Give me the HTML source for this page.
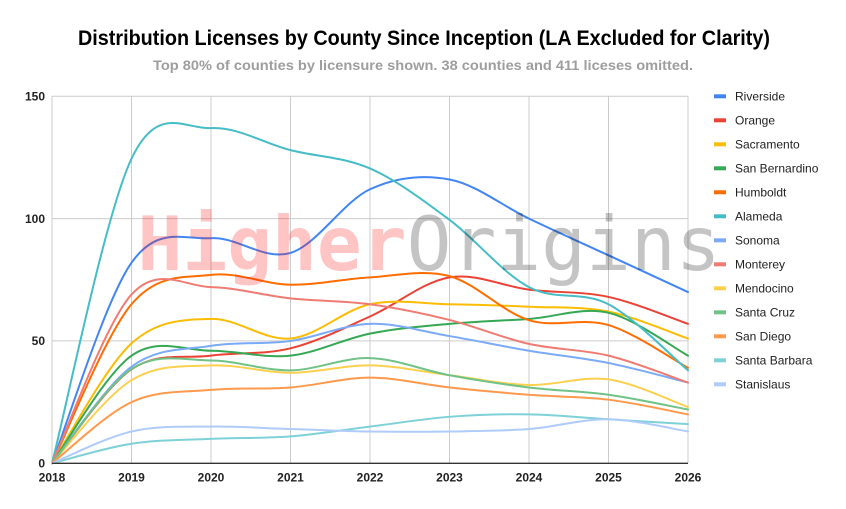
<!DOCTYPE html>
<html>
<head>
<meta charset="utf-8">
<style>
  html, body { margin:0; padding:0; background:#fff; }
  body { width:846px; height:509px; overflow:hidden; }
  svg { display:block; }
  .ax { font-family:"Liberation Sans", Arial, sans-serif; font-weight:bold; font-size:12px; fill:#222; }
  .lg { font-family:"Liberation Sans", Arial, sans-serif; font-size:12px; fill:#222; }
</style>
</head>
<body>
<svg id="chart" width="846" height="509" viewBox="0 0 846 509" xmlns="http://www.w3.org/2000/svg">
  <rect x="0" y="0" width="846" height="509" fill="#ffffff"/>
  <!-- title -->
  <text x="424" y="45" text-anchor="middle" font-family="Liberation Sans, Arial, sans-serif" font-weight="bold" font-size="21" fill="#000" textLength="692" lengthAdjust="spacingAndGlyphs">Distribution Licenses by County Since Inception (LA Excluded for Clarity)</text>
  <text x="423" y="70" text-anchor="middle" font-family="Liberation Sans, Arial, sans-serif" font-weight="bold" font-size="14" fill="#9e9e9e" textLength="540" lengthAdjust="spacingAndGlyphs">Top 80% of counties by licensure shown. 38 counties and 411 liceses omitted.</text>

  <!-- gridlines -->
  <g stroke="#cccccc" stroke-width="1">
    <line x1="52" y1="96.3" x2="688" y2="96.3"/>
    <line x1="52" y1="218.6" x2="688" y2="218.6"/>
    <line x1="52" y1="340.9" x2="688" y2="340.9"/>
    <line x1="52" y1="96" x2="52" y2="463"/>
    <line x1="131.5" y1="96" x2="131.5" y2="463"/>
    <line x1="211" y1="96" x2="211" y2="463"/>
    <line x1="290.5" y1="96" x2="290.5" y2="463"/>
    <line x1="370" y1="96" x2="370" y2="463"/>
    <line x1="449.5" y1="96" x2="449.5" y2="463"/>
    <line x1="529" y1="96" x2="529" y2="463"/>
    <line x1="608.5" y1="96" x2="608.5" y2="463"/>
    <line x1="688" y1="96" x2="688" y2="463"/>
  </g>

  <!-- y labels -->
  <text class="ax" x="45" y="100.5" text-anchor="end">150</text>
  <text class="ax" x="45" y="223" text-anchor="end">100</text>
  <text class="ax" x="45" y="345" text-anchor="end">50</text>
  <text class="ax" x="45" y="467.5" text-anchor="end">0</text>

  <!-- x labels -->
  <text class="ax" x="52" y="481.5" text-anchor="middle">2018</text>
  <text class="ax" x="131.5" y="481.5" text-anchor="middle">2019</text>
  <text class="ax" x="211" y="481.5" text-anchor="middle">2020</text>
  <text class="ax" x="290.5" y="481.5" text-anchor="middle">2021</text>
  <text class="ax" x="370" y="481.5" text-anchor="middle">2022</text>
  <text class="ax" x="449.5" y="481.5" text-anchor="middle">2023</text>
  <text class="ax" x="529" y="481.5" text-anchor="middle">2024</text>
  <text class="ax" x="608.5" y="481.5" text-anchor="middle">2025</text>
  <text class="ax" x="688" y="481.5" text-anchor="middle">2026</text>

  <!-- series -->
  <g id="series" fill="none" stroke-width="2" stroke-linejoin="round" stroke-linecap="round">
    <path id="s0" stroke="#4285F4"/>
    <path id="s1" stroke="#EA4335"/>
    <path id="s2" stroke="#FBBC04"/>
    <path id="s3" stroke="#34A853"/>
    <path id="s4" stroke="#FF6D01"/>
    <path id="s5" stroke="#46BDC6"/>
    <path id="s6" stroke="#7BAAF7"/>
    <path id="s7" stroke="#F07B72"/>
    <path id="s8" stroke="#FCD04F"/>
    <path id="s9" stroke="#71C287"/>
    <path id="s10" stroke="#FF994D"/>
    <path id="s11" stroke="#7ED1D7"/>
    <path id="s12" stroke="#AECBFA"/>
  </g>

  <!-- x axis baseline -->
  <line x1="52" y1="463.3" x2="688" y2="463.3" stroke="#333333" stroke-width="1.3"/>

  <!-- watermark -->
  <text x="137.5" y="270" font-family="DejaVu Sans Mono, Liberation Mono, monospace" font-size="74.5"><tspan font-weight="bold" fill="#ff0000" fill-opacity="0.23">Higher</tspan><tspan font-weight="normal" fill="#000000" fill-opacity="0.23">Origins</tspan></text>

  <!-- legend -->
  <g>
    <rect x="714" y="94.3" width="12" height="4" fill="#4285F4"/>
    <text class="lg" x="735" y="100.5">Riverside</text>
    <rect x="714" y="118.3" width="12" height="4" fill="#EA4335"/>
    <text class="lg" x="735" y="124.5">Orange</text>
    <rect x="714" y="142.3" width="12" height="4" fill="#FBBC04"/>
    <text class="lg" x="735" y="148.5">Sacramento</text>
    <rect x="714" y="166.3" width="12" height="4" fill="#34A853"/>
    <text class="lg" x="735" y="172.5">San Bernardino</text>
    <rect x="714" y="190.3" width="12" height="4" fill="#FF6D01"/>
    <text class="lg" x="735" y="196.5">Humboldt</text>
    <rect x="714" y="214.3" width="12" height="4" fill="#46BDC6"/>
    <text class="lg" x="735" y="220.5">Alameda</text>
    <rect x="714" y="238.3" width="12" height="4" fill="#7BAAF7"/>
    <text class="lg" x="735" y="244.5">Sonoma</text>
    <rect x="714" y="262.3" width="12" height="4" fill="#F07B72"/>
    <text class="lg" x="735" y="268.5">Monterey</text>
    <rect x="714" y="286.3" width="12" height="4" fill="#FCD04F"/>
    <text class="lg" x="735" y="292.5">Mendocino</text>
    <rect x="714" y="310.3" width="12" height="4" fill="#71C287"/>
    <text class="lg" x="735" y="316.5">Santa Cruz</text>
    <rect x="714" y="334.3" width="12" height="4" fill="#FF994D"/>
    <text class="lg" x="735" y="340.5">San Diego</text>
    <rect x="714" y="358.3" width="12" height="4" fill="#7ED1D7"/>
    <text class="lg" x="735" y="364.5">Santa Barbara</text>
    <rect x="714" y="382.3" width="12" height="4" fill="#AECBFA"/>
    <text class="lg" x="735" y="388.5">Stanislaus</text>
  </g>
</svg>
<script>
(function(){
  var data = [
    [0,82,92,86,112,116,100,85,70],
    [0,38.4,44,47,60,76,71,68,57],
    [0,49,59,51,65,65,64,62,51],
    [0,44,46,44,53,57,59,61.5,44],
    [0,65,77,73,76,76.5,58.5,56.5,39],
    [0,124.5,137,128,120.5,99.5,72,65,38],
    [0,39.5,48,50,57,52,46,41,33],
    [0,69,72,67.4,65,58.6,48.8,44,33],
    [0,34,40,37,40,36,32,34.3,23],
    [0,38.5,42,38,43,36,31,28,22],
    [0,25,30,31,35,31,28,26,20],
    [0,8,10,11,15,19,20,18,16],
    [0,13,15,14,13,13,14,18,13]
  ];
  var x0 = 52, dx = 79.5, y0 = 463.3, k = 2.4467;
  function pt(i, v){ return [x0 + i*dx, y0 - v*k]; }
  function f(n){ return n.toFixed(2); }
  for (var s = 0; s < data.length; s++){
    var d = data[s], P = [];
    for (var i = 0; i < d.length; i++) P.push(pt(i, d[i]));
    var n = P.length;
    var str = "M" + f(P[0][0]) + "," + f(P[0][1]);
    for (var i = 0; i < n-1; i++){
      var p0 = P[i-1] || P[i], p1 = P[i], p2 = P[i+1], p3 = P[i+2] || P[i+1];
      var c1x = p1[0] + (p2[0]-p0[0])/6, c1y = p1[1] + (p2[1]-p0[1])/6;
      var c2x = p2[0] - (p3[0]-p1[0])/6, c2y = p2[1] - (p3[1]-p1[1])/6;
      str += " C" + f(c1x) + "," + f(c1y) + " " + f(c2x) + "," + f(c2y) + " " + f(p2[0]) + "," + f(p2[1]);
    }
    document.getElementById("s" + s).setAttribute("d", str);
  }
})();
</script>
</body>
</html>
